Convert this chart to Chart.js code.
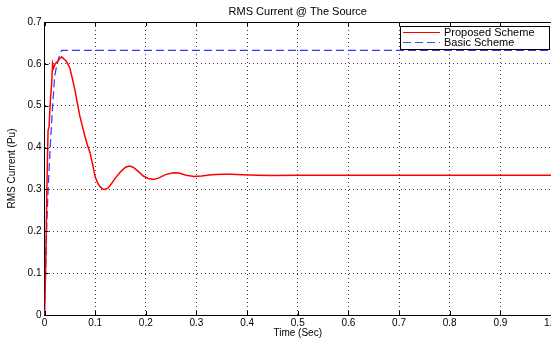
<!DOCTYPE html>
<html>
<head>
<meta charset="utf-8">
<title>RMS Current @ The Source</title>
<script src="https://cdn.jsdelivr.net/npm/chart.js@4.4.0/dist/chart.umd.min.js"></script>
<style>
  body { margin: 0; background: #fff; }
  #wrap { width: 551px; height: 342px; }
</style>
</head>
<body>
<div id="wrap"><canvas id="rms-chart" width="551" height="342"></canvas></div>
<script>
// Valores (tempo em segundos, corrente em pu)
const timeProposed = [0, 0.002, 0.005, 0.007, 0.009, 0.012, 0.014, 0.016, 0.018, 0.021, 0.025, 0.03, 0.034, 0.038, 0.042, 0.046, 0.05, 0.055, 0.06, 0.065, 0.07, 0.075, 0.08, 0.085, 0.09, 0.095, 0.1, 0.105, 0.11, 0.115, 0.12, 0.125, 0.13, 0.14, 0.15, 0.16, 0.168, 0.175, 0.185, 0.195, 0.205, 0.215, 0.225, 0.24, 0.255, 0.265, 0.28, 0.295, 0.31, 0.33, 0.35, 0.37, 0.39, 0.42, 0.45, 0.5, 0.6, 0.8, 1.0];
const currentProposed = [0, 0.1, 0.32, 0.44, 0.45, 0.52, 0.55, 0.6, 0.59, 0.6, 0.605, 0.612, 0.617, 0.612, 0.608, 0.6, 0.59, 0.565, 0.538, 0.505, 0.474, 0.45, 0.426, 0.405, 0.387, 0.36, 0.33, 0.315, 0.306, 0.301, 0.3, 0.303, 0.31, 0.327, 0.342, 0.353, 0.356, 0.353, 0.343, 0.332, 0.326, 0.324, 0.327, 0.336, 0.34, 0.339, 0.334, 0.331, 0.332, 0.335, 0.336, 0.336, 0.335, 0.334, 0.333, 0.334, 0.334, 0.334, 0.334];

const timeBasic = [0, 0.002, 0.004, 0.007, 0.01, 0.012, 0.016, 0.02, 0.024, 0.027, 0.031, 0.034, 0.04, 1.0];
const currentBasic = [0, 0.08, 0.195, 0.298, 0.37, 0.418, 0.498, 0.57, 0.595, 0.609, 0.625, 0.632, 0.632, 0.632];

const seriesLabels = ['Proposed Scheme', 'Basic Scheme'];
const chartTitle = 'RMS Current @ The Source';
const xAxisLabel = 'Time (Sec)';
const yAxisLabel = 'RMS Current (Pu)';

const FONT = '"Liberation Sans", Arial, Helvetica, sans-serif';
Chart.defaults.font.family = FONT;
Chart.defaults.color = '#000';

function toPoints(xs, ys) {
  return xs.map((x, i) => ({ x: x, y: ys[i] }));
}

// Título, moldura de cima, marcas dos ticks e legenda no estilo MATLAB
const matlabExtras = {
  id: 'matlabExtras',
  afterDraw(chart) {
    const { ctx, chartArea } = chart;
    const xScale = chart.scales.x;
    const yScale = chart.scales.y;
    ctx.save();
    ctx.strokeStyle = '#000';
    ctx.lineWidth = 1;

    // linha de cima da caixa
    ctx.beginPath();
    ctx.moveTo(chartArea.left, Math.round(chartArea.top) + 0.5);
    ctx.lineTo(chartArea.right, Math.round(chartArea.top) + 0.5);
    ctx.stroke();

    // marcas dos ticks para dentro
    ctx.beginPath();
    for (const tick of xScale.ticks) {
      const px = Math.round(xScale.getPixelForValue(tick.value)) + 0.5;
      ctx.moveTo(px, chartArea.bottom);
      ctx.lineTo(px, chartArea.bottom - 4);
      ctx.moveTo(px, chartArea.top);
      ctx.lineTo(px, chartArea.top + 4);
    }
    for (const tick of yScale.ticks) {
      const py = Math.round(yScale.getPixelForValue(tick.value)) + 0.5;
      ctx.moveTo(chartArea.left, py);
      ctx.lineTo(chartArea.left + 4, py);
    }
    ctx.stroke();

    // título
    ctx.fillStyle = '#000';
    ctx.font = '11px ' + FONT;
    ctx.textAlign = 'center';
    ctx.textBaseline = 'middle';
    ctx.fillText(chartTitle, (chartArea.left + chartArea.right) / 2, 12);

    // legenda
    const lx = 400.5, ly = 26.5, lw = 149, lh = 23;
    ctx.fillStyle = '#fff';
    ctx.fillRect(lx, ly, lw, lh);
    ctx.strokeStyle = '#000';
    ctx.strokeRect(lx, ly, lw, lh);

    ctx.strokeStyle = '#ff0000';
    ctx.beginPath();
    ctx.moveTo(403, 32.5);
    ctx.lineTo(440, 32.5);
    ctx.stroke();

    ctx.strokeStyle = 'rgb(70,70,255)';
    ctx.setLineDash([8, 4]);
    ctx.beginPath();
    ctx.moveTo(403, 42.5);
    ctx.lineTo(440, 42.5);
    ctx.stroke();
    ctx.setLineDash([]);

    ctx.fillStyle = '#000';
    ctx.font = '11px ' + FONT;
    ctx.textAlign = 'left';
    ctx.fillText(seriesLabels[0], 444, 32.5);
    ctx.fillText(seriesLabels[1], 444, 42.5);
    ctx.restore();
  },
};

const gridStyle = {
  color: 'rgba(0,0,0,0.75)',
  lineWidth: 1,
  drawTicks: false,
  tickLength: 0,
};

new Chart(document.getElementById('rms-chart'), {
  type: 'line',
  data: {
    datasets: [
      {
        label: seriesLabels[0],
        data: toPoints(timeProposed, currentProposed),
        borderColor: '#ff0000',
        borderWidth: 1.5,
        pointRadius: 0,
        tension: 0,
      },
      {
        label: seriesLabels[1],
        data: toPoints(timeBasic, currentBasic),
        borderColor: 'rgb(50,50,255)',
        borderWidth: 1.2,
        borderDash: [8, 4],
        pointRadius: 0,
        tension: 0,
      },
    ],
  },
  options: {
    responsive: false,
    animation: false,
    layout: { padding: { top: 22, right: 0, left: 0, bottom: 0 } },
    plugins: {
      legend: { display: false },
      title: { display: false },
      tooltip: { enabled: false },
    },
    scales: {
      x: {
        type: 'linear',
        min: 0,
        max: 1,
        ticks: { stepSize: 0.1, font: { size: 10 }, padding: 2, maxRotation: 0, autoSkip: false },
        grid: gridStyle,
        // no v4 o dash da borda vale para as linhas de grade
        border: { display: true, color: '#000', width: 1, dash: [1, 3] },
        title: { display: true, text: xAxisLabel, font: { size: 10 }, padding: { top: 0, bottom: 3 } },
        afterFit(scale) {
          scale.height = 27;
          scale.paddingLeft = 0;
          scale.paddingRight = 0;
        },
      },
      y: {
        min: 0,
        max: 0.7,
        ticks: { stepSize: 0.1, font: { size: 10 }, padding: 3 },
        grid: gridStyle,
        border: { display: true, color: '#000', width: 1, dash: [1, 3] },
        title: { display: true, text: yAxisLabel, font: { size: 10 }, padding: { top: 6, bottom: 0 } },
        afterFit(scale) {
          scale.width = 44.5;
          scale.paddingTop = 0;
          scale.paddingBottom = 0;
        },
      },
    },
  },
  plugins: [matlabExtras],
});
</script>
</body>
</html>
